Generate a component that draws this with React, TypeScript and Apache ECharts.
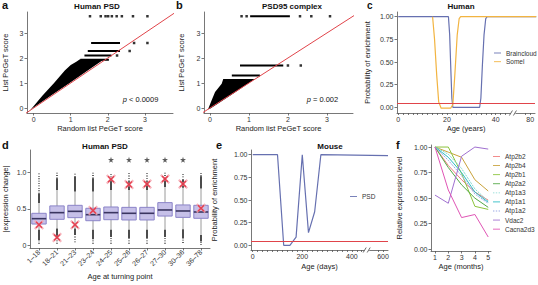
import React, { useEffect, useRef } from 'react';
import * as echarts from 'echarts';

const FONT = '"Liberation Sans", Arial, Helvetica, sans-serif';

// ---------- Panel a: Human PSD ----------
const aDense = [[-0.1, -0.1], [0.24, 0.5], [0.55, 1.0], [0.84, 1.5], [1.0, 1.72], [1.15, 1.85], [1.25, 1.95], [1.9, 1.95], [1.4, 1.44], [1.0, 1.03], [0.5, 0.53], [0.0, 0.02]];
const aRows = [[1.26, 2.03, 1.93], [1.37, 2.1, 2.1], [1.46, 2.33, 2.28], [1.55, 2.33, 2.6]];
const aDots = [[2.25, 2.1], [2.59, 2.28], [2.71, 2.6], [3.07, 2.6], [1.52, 3.67], [1.81, 3.67], [1.94, 3.67], [2.01, 3.67], [2.11, 3.67], [2.24, 3.67], [2.38, 3.67], [2.68, 3.67], [3.07, 3.67]];
// ---------- Panel b: PSD95 complex ----------
const bDense = [[-0.05, -0.05], [0.04, 0.3], [0.13, 0.64], [0.3, 0.97], [0.34, 1.16], [1.15, 1.16], [0.6, 0.58], [0.2, 0.17], [0.0, -0.03]];
const bRows = [[0.56, 1.28, 1.3], [0.77, 1.88, 1.7], [1.03, 2.05, 3.67]];
const bDots = [[2.0, 1.7], [2.33, 1.7], [0.81, 3.67], [0.94, 3.67], [2.31, 3.67], [2.6, 3.67], [3.08, 3.67]];
const diagonal = [[-0.5, -0.5], [4, 4]];
const scoreTicks = [0, 1, 2, 3];

// ---------- Panel c: Human ----------
const brainX = [0, 20.6, 21.1, 21.6, 22.0, 22.4, 33.4, 33.9, 34.5, 35.2, 35.9, 36.5, 82.5];
const brainY = [1, 1, 0.8, 0.4, 0.1, 0, 0, 0.1, 0.45, 0.8, 0.98, 1, 1];
const somelX = [14.1, 14.9, 15.8, 16.6, 17.6, 21.5, 22.4, 23.2, 24.2, 25.0, 25.6, 82.5];
const somelY = [1, 0.75, 0.35, 0.06, -0.01, -0.01, 0.03, 0.35, 0.8, 0.98, 1, 1];
const cBreak = [45, 75];
const cBreakGap = 4.1;
const cLabelTicks = [0, 20, 40, 80];
const cMinorTicks = [0, 2, 4, 6, 8, 10, 12, 14, 16, 18, 20, 22, 24, 26, 28, 30, 32, 34, 36, 38, 40, 42, 44, 78, 80];
const probTicks = [0, 0.25, 0.5, 0.75, 1];
const threshold = 0.05;

// ---------- Panel d: Human PSD boxes ----------
const dCats = ['1–18', '18–21', '21–23', '23–24', '24–25', '25–26', '26–27', '27–30', '30–36', '36–78'];
const dQ1 = [0.29, 0.355, 0.378, 0.336, 0.35, 0.346, 0.346, 0.40, 0.382, 0.369];
const dMed = [0.364, 0.447, 0.465, 0.419, 0.447, 0.438, 0.438, 0.484, 0.47, 0.456];
const dQ3 = [0.438, 0.54, 0.548, 0.507, 0.525, 0.52, 0.52, 0.585, 0.553, 0.548];
const dWhiskHigh = [0.58, 0.76, 0.74, 0.74, 0.76, 0.76, 0.76, 0.80, 0.79, 0.78];
const dDenseTop = [0.71, 0.92, 0.94, 0.92, 0.90, 0.88, 0.88, 0.92, 0.90, 0.95];
const dOutMax = [1, 1, 1, 1, 1, 1, 1, 1, 1, 1];
const dWhiskLow = [0.21, 0.23, 0.23, 0.21, 0.21, 0.21, 0.21, 0.21, 0.22, 0.14];
const dDenseBottom = [0.07, 0.10, 0.14, 0.08, 0.11, 0.09, 0.09, 0.11, 0.09, 0.05];
const dOutMin = [0.02, 0.02, 0.04, 0.02, 0.02, 0.02, 0.02, 0.02, 0.03, 0.0];
const dObserved = [0.28, 0.106, 0.28, 0.475, 0.908, 0.834, 0.84, 0.912, 0.843, 0.507];
const dStarCats = [4, 5, 6, 7, 8];
const dStarLevel = 1.175;
const dTicks = [0, 0.5, 1];

// ---------- Panel e: Mouse ----------
const eDays = [0, 100, 125, 150, 175, 200, 225, 250, 275, 620];
const ePSD = [1, 1, 0, 0, 0.09, 1, 0.14, 0.37, 1, 0.99];
const eBreak = [444, 550];
const eBreakGap = 32;
const eLabelTicks = [0, 200, 400, 600];
const eMinorTicks = [0, 20, 40, 60, 80, 100, 120, 140, 160, 180, 200, 220, 240, 260, 280, 300, 320, 340, 360, 380, 400, 420, 440, 580, 600];

// ---------- Panel f ----------
const months = [1, 2, 3, 4, 5];
const fNames = ['Atp2b2', 'Atp2b4', 'Atp2b1', 'Atp2a2', 'Atp1a3', 'Atp1a1', 'Atp1a2', 'Vdac2', 'Cacna2d3'];
const fValues = [
  [1.0, 0.82, 0.68, 0.56, 0.48],
  [1.0, 0.95, 0.90, 0.68, 0.57],
  [1.0, 1.0, 0.74, 0.42, 0.39],
  [1.0, 0.80, 0.63, 0.50, 0.41],
  [1.0, 0.93, 0.79, 0.59, 0.47],
  [1.0, 0.90, 0.75, 0.56, 0.46],
  [1.0, 0.87, 0.72, 0.54, 0.45],
  [0.53, 0.45, 0.91, 1.0, 0.98],
  [1.0, 0.58, 0.31, 0.34, 0.12],
];
const fColors = ['#f07c7c', '#c9a23a', '#8cc43c', '#52a845', '#7fd8cf', '#2bbcc4', '#9aa8e4', '#a070d0', '#e055b5'];
const fDashed = [false, false, false, false, true, false, true, false, false];
const fTicks = [1, 2, 3, 4, 5];

const RED = '#e0444a';
const BLUE = '#6670b0';
const ORANGE = '#f2b441';
const DASH_ICON = 'path://M0,0h1.6v1h-1.6z M3.2,0h1.6v1h-1.6z M6.4,0h1.6v1h-1.6z';
const SOLID_ICON = 'path://M0,0h8v1h-8z';

const makeBreak = (brk: number[], gap: number) => ({
  fwd: (v: number) => (v <= brk[0] ? v : v >= brk[1] ? brk[0] + gap + (v - brk[1]) : brk[0] + gap / 2),
  inv: (v: number) => (v <= brk[0] + gap / 2 ? v : v - brk[0] - gap + brk[1]),
});

function makeAxis(base: any, label: any = {}, tick: any = {}) {
  return {
    nameLocation: 'middle',
    nameMoveOverlap: false,
    nameTextStyle: { fontSize: 7.5, color: '#222', fontFamily: FONT },
    axisLine: { show: true, onZero: false, lineStyle: { color: '#555', width: 0.8 } },
    axisTick: { show: true, length: 2.5, lineStyle: { color: '#555', width: 0.8 }, ...tick },
    axisLabel: { fontSize: 7, color: '#333', margin: 3, fontFamily: FONT, ...label },
    splitLine: { show: false },
    ...base,
  };
}

function polygonSeries(idx: number, pts: number[][]) {
  const flat: number[] = [];
  pts.forEach((p) => { flat.push(p[0], p[1]); });
  const xs = pts.map((_, i) => 2 * i);
  const ys = pts.map((_, i) => 2 * i + 1);
  return {
    type: 'custom', xAxisIndex: idx, yAxisIndex: idx, clip: true, z: 2,
    data: [flat], encode: { x: xs, y: ys },
    renderItem: (params: any, api: any) => {
      const points: number[][] = [];
      for (let i = 0; i < pts.length; i++) points.push(api.coord([api.value(2 * i), api.value(2 * i + 1)]));
      return { type: 'polygon', shape: { points }, style: { fill: '#000' } };
    },
  };
}

function rowSeries(idx: number, rows: number[][]) {
  return {
    type: 'custom', xAxisIndex: idx, yAxisIndex: idx, clip: true, z: 2,
    data: rows, encode: { x: [0, 1], y: 2 },
    renderItem: (params: any, api: any) => {
      const p0 = api.coord([api.value(0), api.value(2)]);
      const p1 = api.coord([api.value(1), api.value(2)]);
      return { type: 'line', shape: { x1: p0[0], y1: p0[1], x2: p1[0], y2: p1[1] }, style: { stroke: '#000', lineWidth: 2 } };
    },
  };
}

function breakMarkSeries(idx: number, at: number, yBase: number) {
  return {
    type: 'custom', xAxisIndex: idx, yAxisIndex: idx, clip: false, z: 20,
    data: [[at, yBase]], encode: { x: 0, y: 1 },
    renderItem: (params: any, api: any) => {
      const p = api.coord([api.value(0), api.value(1)]);
      const mx = p[0];
      const my = p[1];
      return {
        type: 'group', children: [
          { type: 'rect', shape: { x: mx - 2.5, y: my - 1.5, width: 5, height: 3 }, style: { fill: '#fff' } },
          { type: 'line', shape: { x1: mx - 3.5, y1: my + 2.5, x2: mx - 0.5, y2: my - 2.5 }, style: { stroke: '#444', lineWidth: 0.8 } },
          { type: 'line', shape: { x1: mx + 0.5, y1: my + 2.5, x2: mx + 3.5, y2: my - 2.5 }, style: { stroke: '#444', lineWidth: 0.8 } },
        ],
      };
    },
  };
}

const X_PATH = 'path://M0,1.5 L1.5,0 L5,3.5 L8.5,0 L10,1.5 L6.5,5 L10,8.5 L8.5,10 L5,6.5 L1.5,10 L0,8.5 L3.5,5 Z';
const STAR_PATH = 'path://M50,0 L61,35 L98,35 L68,57 L79,91 L50,70 L21,91 L32,57 L2,35 L39,35 Z';

export default function App() {
  const ref = useRef<HTMLDivElement>(null);
  useEffect(() => {
    document.body.style.margin = '0';
    if (!ref.current) return;
    const chart = echarts.init(ref.current, null, { renderer: 'svg' });

    const probFmt = (v: any) => Number(v).toFixed(2);
    const dFmt = (v: any) => (Number(v) === 0 ? '0' : Number(v).toFixed(1));
    const intFmt = (v: any) => String(Math.round(Number(v)));
    const cb = makeBreak(cBreak, cBreakGap);
    const eb = makeBreak(eBreak, eBreakGap);
    const noLabel = { show: false };

    const grid = [
      { left: 22, top: 12, width: 151, height: 101 },
      { left: 204, top: 12, width: 149, height: 101 },
      { left: 397, top: 12, width: 138, height: 101 },
      { left: 26, top: 150, width: 184, height: 98 },
      { left: 251, top: 150, width: 137, height: 100 },
      { left: 431, top: 145, width: 60, height: 106 },
    ];
    const xMins = [-0.18, -0.154, -0.5, 0, -7, 0.7];

    const xAxis = [
      makeAxis({ type: 'value', gridIndex: 0, min: xMins[0], max: 3.76, name: 'Random list PeGeT score', nameGap: 11 }, { customValues: scoreTicks }, { customValues: scoreTicks }),
      makeAxis({ type: 'value', gridIndex: 1, min: xMins[1], max: 3.67, name: 'Random list PeGeT score', nameGap: 11 }, { customValues: scoreTicks }, { customValues: scoreTicks }),
      makeAxis({ type: 'value', gridIndex: 2, min: xMins[2], max: cb.fwd(82), name: 'Age (years)', nameGap: 11 },
        { customValues: cLabelTicks.map(cb.fwd), formatter: (v: any) => String(Math.round(cb.inv(Number(v)))) },
        { customValues: cMinorTicks.map(cb.fwd), length: 2 }),
      makeAxis({ type: 'category', gridIndex: 3, data: dCats, boundaryGap: true, name: 'Age at turning point', nameGap: 24.5 },
        { rotate: 45, interval: 0, margin: 3 }, { alignWithLabel: true, interval: 0 }),
      makeAxis({ type: 'value', gridIndex: 4, min: xMins[4], max: eb.fwd(620), name: 'Age (days)', nameGap: 12.5 },
        { customValues: eLabelTicks.map(eb.fwd), formatter: (v: any) => String(Math.round(eb.inv(Number(v)))) },
        { customValues: eMinorTicks.map(eb.fwd), length: 2 }),
      makeAxis({ type: 'value', gridIndex: 5, min: xMins[5], max: 5.21, name: 'Age (months)', nameGap: 11.5 }, { customValues: fTicks }, { customValues: fTicks }),
    ];

    const yAxis = [
      makeAxis({ type: 'value', gridIndex: 0, min: -0.2, max: 3.84, name: 'List PeGeT score', nameGap: 18 }, noLabel, { customValues: scoreTicks }),
      makeAxis({ type: 'value', gridIndex: 1, min: -0.2, max: 3.84, name: 'List PeGeT score', nameGap: 19 }, noLabel, { customValues: scoreTicks }),
      makeAxis({ type: 'value', gridIndex: 2, min: -0.063, max: 1.052, name: 'Probability of enrichment', nameGap: 26 }, noLabel, { customValues: probTicks }),
      makeAxis({ type: 'value', gridIndex: 3, min: -0.04, max: 1.31, name: '|expression change|', nameGap: 21 }, noLabel, { customValues: dTicks }),
      makeAxis({ type: 'value', gridIndex: 4, min: -0.052, max: 1.052, name: 'Probability of enrichment', nameGap: 32.5 }, noLabel, { customValues: probTicks }),
      makeAxis({ type: 'value', gridIndex: 5, min: -0.017, max: 1.02, name: 'Relative expression level', nameGap: 27.5 }, noLabel, { customValues: probTicks }),
    ];

    const series: any[] = [];
    // a
    series.push(polygonSeries(0, aDense));
    series.push(rowSeries(0, aRows));
    series.push({ type: 'scatter', xAxisIndex: 0, yAxisIndex: 0, data: aDots, symbol: 'rect', symbolSize: 2.5, itemStyle: { color: '#000' } });
    series.push({ type: 'line', xAxisIndex: 0, yAxisIndex: 0, data: diagonal, showSymbol: false, clip: true, lineStyle: { color: RED, width: 1 }, z: 5 });
    // b
    series.push(polygonSeries(1, bDense));
    series.push(rowSeries(1, bRows));
    series.push({ type: 'scatter', xAxisIndex: 1, yAxisIndex: 1, data: bDots, symbol: 'rect', symbolSize: 2.5, itemStyle: { color: '#000' } });
    series.push({ type: 'line', xAxisIndex: 1, yAxisIndex: 1, data: diagonal, showSymbol: false, clip: true, lineStyle: { color: RED, width: 1 }, z: 5 });
    // c
    series.push({ name: 'Braincloud', type: 'line', xAxisIndex: 2, yAxisIndex: 2, data: brainX.map((x, i) => [cb.fwd(x), brainY[i]]), showSymbol: false, symbol: 'none', clip: true, lineStyle: { color: BLUE, width: 1.2 }, itemStyle: { color: BLUE }, z: 3,
      markLine: { silent: true, symbol: 'none', label: { show: false }, lineStyle: { color: RED, width: 1.2, type: 'solid' }, data: [{ yAxis: threshold }] } });
    series.push({ name: 'Somel', type: 'line', xAxisIndex: 2, yAxisIndex: 2, data: somelX.map((x, i) => [cb.fwd(x), somelY[i]]), showSymbol: false, symbol: 'none', clip: true, lineStyle: { color: ORANGE, width: 1.2 }, itemStyle: { color: ORANGE }, z: 4 });
    series.push(breakMarkSeries(2, cb.fwd((cBreak[0] + cBreak[1]) / 2), -0.063));
    // d
    series.push({
      type: 'custom', xAxisIndex: 3, yAxisIndex: 3, z: 2,
      data: dCats.map((_, i) => [i, dOutMin[i], dDenseBottom[i], dWhiskLow[i], dWhiskHigh[i], dDenseTop[i], dOutMax[i]]),
      encode: { x: 0, y: [1, 2, 3, 4, 5, 6] },
      renderItem: (params: any, api: any) => {
        const x = api.value(0);
        const p = (k: number) => api.coord([x, api.value(k)]);
        const a = p(1), b = p(2), c = p(3), d = p(4), e = p(5), f = p(6);
        const seg = (u: number[], v: number[], style: any) => ({ type: 'line', shape: { x1: u[0], y1: u[1], x2: v[0], y2: v[1] }, style });
        return {
          type: 'group', children: [
            seg(c, d, { stroke: '#9a9a9a', lineWidth: 1 }),
            seg(a, b, { stroke: '#111', lineWidth: 1.3, lineDash: [0.8, 1.6] }),
            seg(b, c, { stroke: '#111', lineWidth: 1.5 }),
            seg(d, e, { stroke: '#111', lineWidth: 1.5 }),
            seg(e, f, { stroke: '#111', lineWidth: 1.3, lineDash: [0.8, 1.6] }),
          ],
        };
      },
    });
    series.push({
      type: 'custom', xAxisIndex: 3, yAxisIndex: 3, z: 3,
      data: dCats.map((_, i) => [i, dQ1[i], dMed[i], dQ3[i]]),
      encode: { x: 0, y: [1, 2, 3] },
      renderItem: (params: any, api: any) => {
        const x = api.value(0);
        const q1 = api.coord([x, api.value(1)]);
        const md = api.coord([x, api.value(2)]);
        const q3 = api.coord([x, api.value(3)]);
        const bw = api.size([1, 0])[0] * 0.8;
        return {
          type: 'group', children: [
            { type: 'rect', shape: { x: q3[0] - bw / 2, y: q3[1], width: bw, height: q1[1] - q3[1] }, style: { fill: '#c6c0e8', stroke: '#8b84c8', lineWidth: 1 } },
            { type: 'line', shape: { x1: md[0] - bw / 2, y1: md[1], x2: md[0] + bw / 2, y2: md[1] }, style: { stroke: '#3a3560', lineWidth: 1.6 } },
          ],
        };
      },
    });
    series.push({ type: 'scatter', xAxisIndex: 3, yAxisIndex: 3, data: dObserved.map((v, i) => [i, v]), symbol: X_PATH, symbolSize: 10, itemStyle: { color: '#f5a3ad' }, z: 4 });
    series.push({ type: 'scatter', xAxisIndex: 3, yAxisIndex: 3, data: dObserved.map((v, i) => [i, v]), symbol: X_PATH, symbolSize: 7, itemStyle: { color: '#e0283a' }, z: 5 });
    series.push({ type: 'scatter', xAxisIndex: 3, yAxisIndex: 3, data: dStarCats.map((i) => [i, dStarLevel]), symbol: STAR_PATH, symbolSize: 6, itemStyle: { color: '#333' }, z: 5 });
    // e
    series.push({ name: 'PSD', type: 'line', xAxisIndex: 4, yAxisIndex: 4, data: eDays.map((x, i) => [eb.fwd(x), ePSD[i]]), showSymbol: false, symbol: 'none', clip: true, lineStyle: { color: BLUE, width: 1.2 }, itemStyle: { color: BLUE }, z: 3,
      markLine: { silent: true, symbol: 'none', label: { show: false }, lineStyle: { color: RED, width: 1.2, type: 'solid' }, data: [{ yAxis: threshold }] } });
    series.push(breakMarkSeries(4, eb.fwd((eBreak[0] + eBreak[1]) / 2), -0.052));
    // f
    fNames.forEach((name, k) => {
      series.push({ name, type: 'line', xAxisIndex: 5, yAxisIndex: 5, data: months.map((m, i) => [m, fValues[k][i]]), showSymbol: false, symbol: 'none',
        lineStyle: { color: fColors[k], width: 1, type: fDashed[k] ? [2, 1] : 'solid' }, itemStyle: { color: fColors[k] }, z: 3 });
    });

    const legendBase = { orient: 'vertical', itemWidth: 7, itemHeight: 1, padding: 0, textStyle: { fontSize: 6.5, color: '#333', fontFamily: FONT, lineHeight: 8 }, selectedMode: false };
    const legend = [
      { ...legendBase, data: ['Braincloud', 'Somel'].map((n) => ({ name: n, icon: SOLID_ICON })), left: 494, top: 49, itemGap: 0.7 },
      { ...legendBase, data: [{ name: 'PSD', icon: SOLID_ICON }], left: 350, top: 192.5 },
      { ...legendBase, data: fNames.map((n, k) => ({ name: n, icon: fDashed[k] ? DASH_ICON : SOLID_ICON })), left: 493, top: 152.5, itemGap: 1.08 },
    ];

    const txt = (text: string, x: number, y: number, size: number, bold: boolean, align = 'center', rich?: any, fill = '#111') => ({
      type: 'text', x, y, silent: true, z: 50,
      style: rich
        ? { text, align, verticalAlign: 'middle', fontSize: size, fontWeight: bold ? 'bold' : 'normal', fontFamily: FONT, fill, rich }
        : { text, align, verticalAlign: 'middle', fontSize: size, fontWeight: bold ? 'bold' : 'normal', fontFamily: FONT, fill },
    });
    const graphic: any[] = [
      txt('a', 2, 5, 11, true, 'left'),
      txt('b', 176, 5, 11, true, 'left'),
      txt('c', 367, 5, 10, true, 'left'),
      txt('d', 2, 145, 11, true, 'left'),
      txt('e', 216, 145, 11, true, 'left'),
      txt('f', 396, 145, 11, true, 'left'),
      txt('Human PSD', 97, 6, 8, true),
      txt('PSD95 complex', 292, 6, 8, true),
      txt('Human', 461, 6, 8, true),
      txt('Human PSD', 105, 146, 8, true),
      txt('Mouse', 330, 146, 8, true),
      txt('{i|p} < 0.0009', 122.7, 99, 7.5, false, 'left', { i: { fontStyle: 'italic', fontSize: 7.5, fontFamily: FONT } }),
      txt('{i|p} = 0.002', 306.7, 99, 7.5, false, 'left', { i: { fontStyle: 'italic', fontSize: 7.5, fontFamily: FONT } }),
    ];

    chart.setOption({
      animation: false,
      grid, xAxis, yAxis, series, legend, graphic,
    });

    // y tick labels, positioned through each panel's own axes
    const yTickSets = [
      { i: 0, values: scoreTicks, fmt: intFmt },
      { i: 1, values: scoreTicks, fmt: intFmt },
      { i: 2, values: probTicks, fmt: probFmt },
      { i: 3, values: dTicks, fmt: dFmt },
      { i: 4, values: probTicks, fmt: probFmt },
      { i: 5, values: probTicks, fmt: probFmt },
    ];
    const yLabels: any[] = [];
    yTickSets.forEach(({ i, values, fmt }) => {
      let axisX: number;
      if (i === 3) {
        const c0 = chart.convertToPixel({ xAxisIndex: 3 }, dCats[0]) as number;
        const c1 = chart.convertToPixel({ xAxisIndex: 3 }, dCats[1]) as number;
        axisX = c0 - (c1 - c0) / 2;
      } else {
        axisX = chart.convertToPixel({ xAxisIndex: i }, xMins[i]) as number;
      }
      values.forEach((v) => {
        const py = chart.convertToPixel({ yAxisIndex: i }, v) as number;
        if (typeof axisX === 'number' && typeof py === 'number' && isFinite(axisX) && isFinite(py)) {
          yLabels.push(txt(fmt(v), axisX - 3.5, py, 7, false, 'right', undefined, '#333'));
        }
      });
    });
    chart.setOption({ graphic: [...graphic, ...yLabels] });
    return () => chart.dispose();
  }, []);
  return <div ref={ref} style={{ width: 538, height: 285 }} />;
}
